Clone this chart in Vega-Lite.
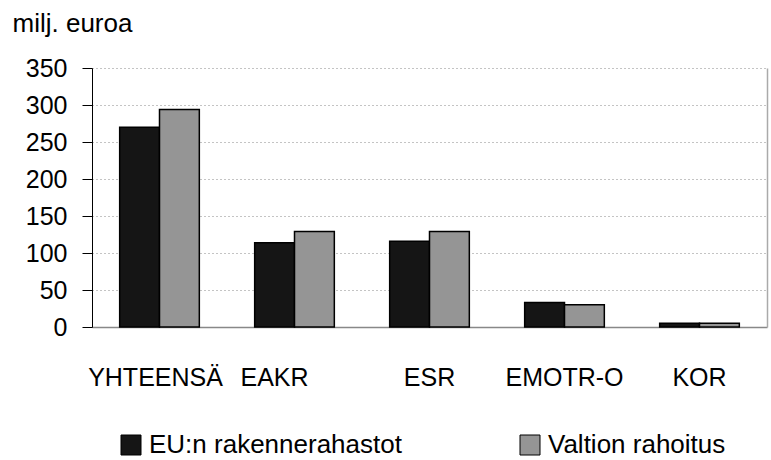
{
  "$schema": "https://vega.github.io/schema/vega-lite/v6.json",
  "width": 675,
  "height": 259,
  "autosize": "none",
  "padding": {"left": 92, "top": 68, "right": 4, "bottom": 133},
  "background": "white",
  "config": {"view": {"stroke": null}, "font": "Liberation Sans"},
  "data": {"values": [
    {"rahasto": "YHTEENSÄ", "sarja": "EU:n rakennerahastot", "arvo": 270},
    {"rahasto": "YHTEENSÄ", "sarja": "Valtion rahoitus", "arvo": 294},
    {"rahasto": "EAKR", "sarja": "EU:n rakennerahastot", "arvo": 114},
    {"rahasto": "EAKR", "sarja": "Valtion rahoitus", "arvo": 129},
    {"rahasto": "ESR", "sarja": "EU:n rakennerahastot", "arvo": 116},
    {"rahasto": "ESR", "sarja": "Valtion rahoitus", "arvo": 129},
    {"rahasto": "EMOTR-O", "sarja": "EU:n rakennerahastot", "arvo": 33},
    {"rahasto": "EMOTR-O", "sarja": "Valtion rahoitus", "arvo": 30},
    {"rahasto": "KOR", "sarja": "EU:n rakennerahastot", "arvo": 5},
    {"rahasto": "KOR", "sarja": "Valtion rahoitus", "arvo": 5}
  ]},
  "encoding": {
    "x": {
      "field": "rahasto", "type": "nominal", "sort": null,
      "scale": {"paddingInner": 0.41, "paddingOuter": 0.205},
      "axis": {
        "title": null, "labelAngle": 0, "labelFontSize": 25, "labelColor": "black",
        "labelFont": "Liberation Sans", "labelBaseline": "alphabetic",
        "labelPadding": 58, "ticks": false, "tickSize": 0,
        "domainColor": "#888888", "domainWidth": 1.5,
        "labelOffset": {"condition": [
          {"test": "datum.value === 'EAKR'", "value": -20},
          {"test": "datum.value === 'YHTEENSÄ'", "value": -4}
        ], "value": 0}
      }
    },
    "xOffset": {"field": "sarja", "type": "nominal", "sort": null},
    "y": {
      "field": "arvo", "type": "quantitative",
      "scale": {"domain": [0, 350], "nice": false}
    }
  },
  "layer": [
    {
      "mark": {"type": "bar", "stroke": "black", "strokeWidth": 1.5},
      "encoding": {
        "y": {
          "field": "arvo", "type": "quantitative",
          "scale": {"domain": [0, 350], "nice": false},
          "axis": {
            "values": [0, 50, 100, 150, 200, 250, 300, 350],
            "grid": true, "gridDash": [1, 3], "gridColor": "#888888", "gridWidth": 1,
            "domainColor": "black", "domainWidth": 1,
            "tickColor": "black", "tickSize": 10, "tickWidth": 1,
            "labelPadding": 15, "labelFontSize": 25, "labelColor": "black",
            "labelFont": "Liberation Sans",
            "title": "milj. euroa", "titleAngle": 0, "titleAlign": "left",
            "titleBaseline": "alphabetic", "titleX": -80, "titleY": -37,
            "titleFontSize": 26, "titleFontWeight": "normal",
            "titleFont": "Liberation Sans", "titleColor": "black"
          }
        },
        "color": {
          "field": "sarja", "type": "nominal", "sort": null,
          "scale": {"domain": ["EU:n rakennerahastot", "Valtion rahoitus"], "range": ["#151515", "#959595"]},
          "legend": {
            "orient": "none", "legendX": 26, "legendY": 364, "direction": "horizontal",
            "title": null, "symbolType": "square", "symbolSize": 400,
            "symbolStrokeColor": "black", "symbolStrokeWidth": 1,
            "labelFontSize": 26, "labelFont": "Liberation Sans", "labelColor": "black",
            "labelLimit": 0, "labelOffset": 5, "columnPadding": 115, "padding": 0
          }
        }
      }
    },
    {
      "mark": {"type": "bar", "opacity": 0},
      "encoding": {
        "y": {
          "field": "arvo", "type": "quantitative",
          "scale": {"domain": [0, 350], "nice": false},
          "axis": {
            "orient": "right", "labels": false, "ticks": false, "grid": false,
            "title": null, "domainColor": "#aaaaaa", "domainWidth": 1.5
          }
        }
      }
    }
  ],
  "resolve": {"axis": {"y": "independent"}}
}
